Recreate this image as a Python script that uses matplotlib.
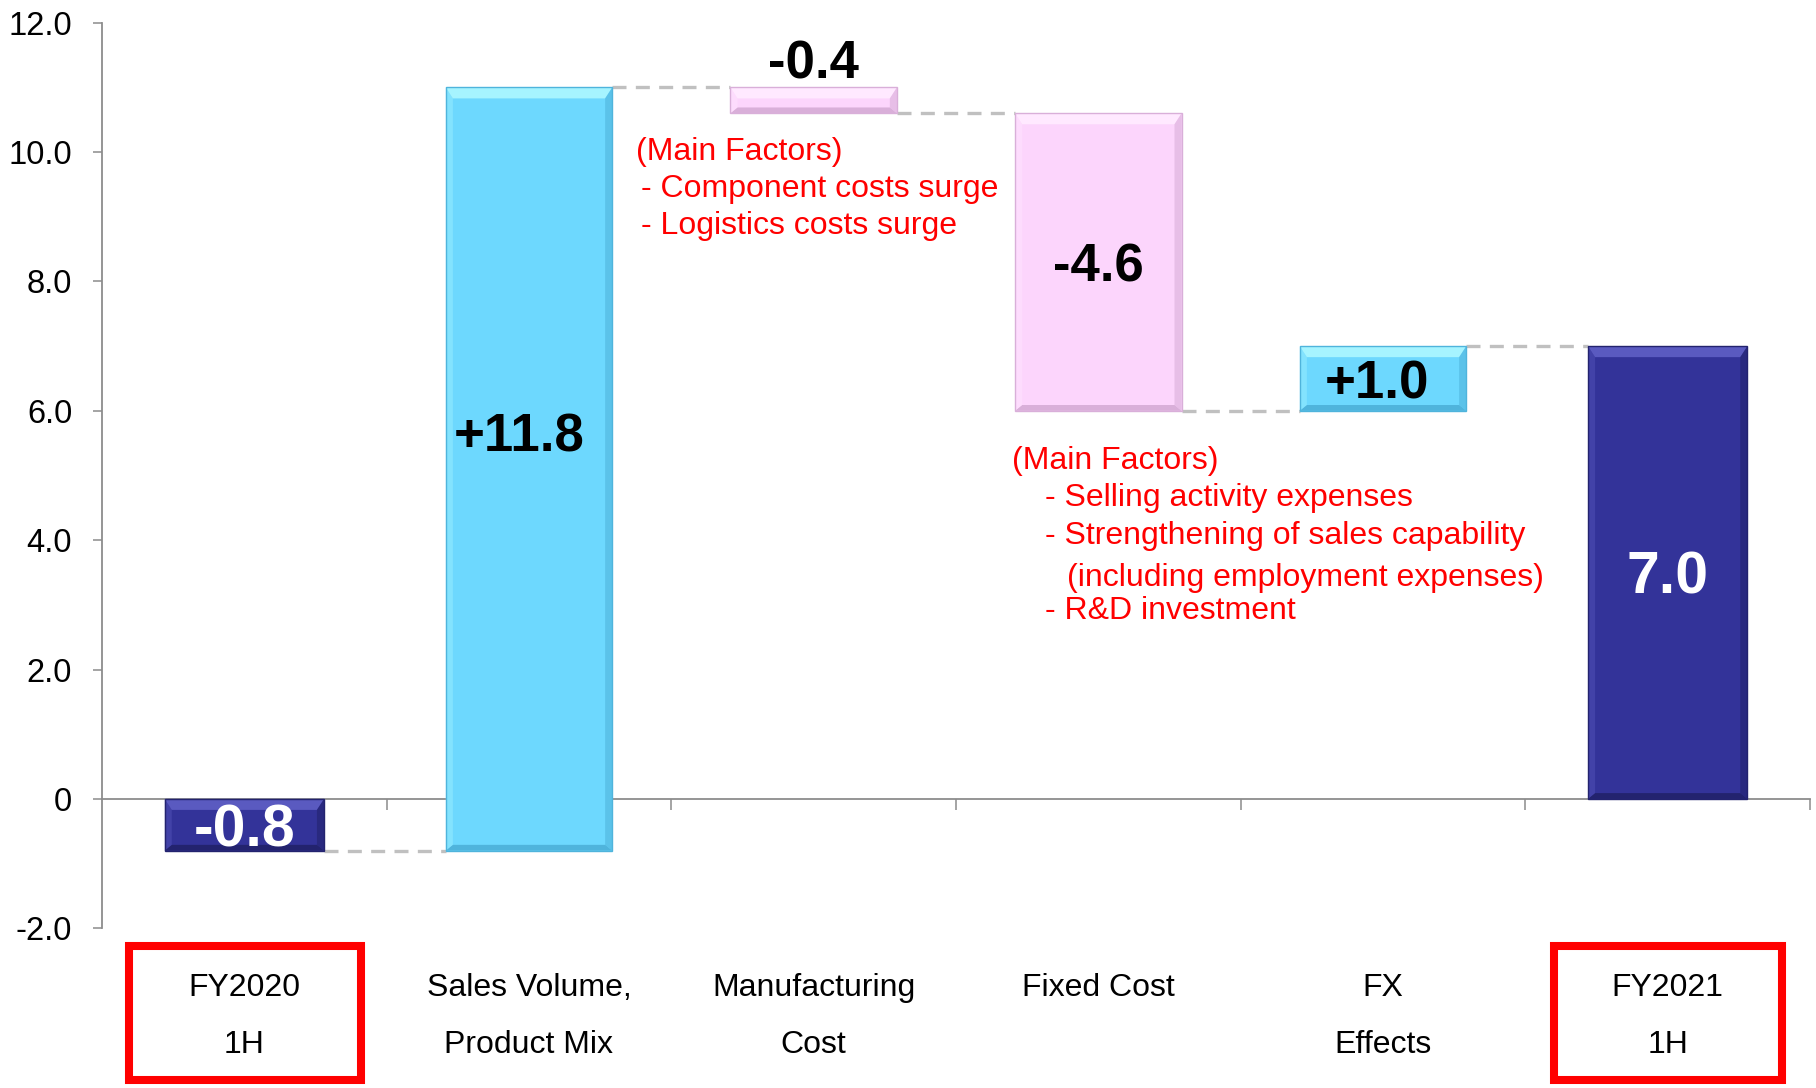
import matplotlib
matplotlib.use("Agg")
import matplotlib.pyplot as plt
from matplotlib.patches import Polygon, Rectangle

plt.rcParams['font.family'] = ['Liberation Sans', 'DejaVu Sans']

# waterfall data
categories = [["FY2020", "1H"], ["Sales Volume,", "Product Mix"], ["Manufacturing", "Cost"],
              ["Fixed Cost"], ["FX", "Effects"], ["FY2021", "1H"]]
values = [-0.8, 11.8, -0.4, -4.6, 1.0, 7.0]
is_total = [True, False, False, False, False, True]
y_ticks = [-2, 0, 2, 4, 6, 8, 10, 12]
y_tick_labels = ["-2.0", "0", "2.0", "4.0", "6.0", "8.0", "10.0", "12.0"]

notes_manufacturing = ["(Main Factors)", "- Component costs surge", "- Logistics costs surge"]
notes_fixed = ["(Main Factors)", "- Selling activity expenses", "- Strengthening of sales capability",
               "(including employment expenses)", "- R&D investment"]

# colours: face, bevel light, bevel dark
NAVY = ("#333399", "#5a5ac0", "#23236e")
BLUE = ("#6dd8fe", "#a6f4ff", "#4fb4dc")
PINK = ("#fcd5fc", "#ffe9ff", "#d9afd9")


def bevel_bar(ax, xc, lo, hi, w, colors):
    face, light, dark = colors
    x0, x1 = xc - w / 2, xc + w / 2
    bx, bt, bb = 0.025, 0.17, 0.09
    ax.add_patch(Rectangle((x0, lo), w, hi - lo, facecolor=face, edgecolor="none", zorder=3))
    ax.add_patch(Polygon([(x0, hi), (x1, hi), (x1 - bx, hi - bt), (x0 + bx, hi - bt)],
                         closed=True, facecolor=light, edgecolor="none", zorder=4))
    ax.add_patch(Polygon([(x0, lo), (x1, lo), (x1 - bx, lo + bb), (x0 + bx, lo + bb)],
                         closed=True, facecolor=dark, edgecolor="none", zorder=4))
    ax.add_patch(Polygon([(x1, lo), (x1, hi), (x1 - bx, hi - bt), (x1 - bx, lo + bb)],
                         closed=True, facecolor=dark, edgecolor="none", alpha=0.6, zorder=4))
    ax.add_patch(Polygon([(x0, lo), (x0, hi), (x0 + bx, hi - bt), (x0 + bx, lo + bb)],
                         closed=True, facecolor=light, edgecolor="none", alpha=0.4, zorder=4))
    ax.add_patch(Rectangle((x0, lo), w, hi - lo, facecolor="none", edgecolor=dark,
                           lw=1.0, zorder=5))


fig = plt.figure(figsize=(18.16, 10.88), dpi=100)
ax = fig.add_axes([102 / 1816, 0.1468, (1810 - 102) / 1816, 0.9791 - 0.1468])
ax.set_xlim(-0.5, 5.5)
ax.set_ylim(-2, 12)

# running totals for the floating bars
spans = []
running = 0.0
for v, tot in zip(values, is_total):
    if tot:
        start, end = 0.0, v
    else:
        start, end = running, running + v
    running = end
    spans.append((start, end))

widths = []
for i, (v, tot) in enumerate(zip(values, is_total)):
    start, end = spans[i]
    lo, hi = min(start, end), max(start, end)
    w = 0.56 if tot else 0.585
    widths.append(w)
    colors = NAVY if tot else (BLUE if v > 0 else PINK)
    bevel_bar(ax, i, lo, hi, w, colors)

    # value label
    text = f"{v:.1f}" if tot else f"{v:+.1f}"
    lx = i
    ly = (lo + hi) / 2 - 0.09
    if i == 1:
        lx -= 0.035
        ly += 0.57
    if i == 2:
        ly = hi + 0.35
    if i == 4:
        lx -= 0.02
    ax.text(lx, ly, text, ha="center", va="center", fontweight="bold",
            fontsize=42.5 if tot else 38,
            color="white" if tot else "black", zorder=6)

# dashed connectors between neighbouring bars
for i in range(len(values) - 1):
    y = spans[i][1]
    ax.plot([i + widths[i] / 2, i + 1 - widths[i + 1] / 2], [y, y], color="#c0c0c0",
            lw=2.4, dashes=(4.2, 2.8), zorder=2, solid_capstyle="butt")

# category labels below the axis
for i, lines in enumerate(categories):
    for j, line in enumerate(lines):
        ax.text(i, -2.93 - 0.87 * j, line, ha="center", va="center", fontsize=23, clip_on=False)

# red frames around the two period totals
for x0, x1 in [(-0.405, 0.41), (4.60, 5.40)]:
    ax.add_patch(Rectangle((x0, -4.34), x1 - x0, 2.07, facecolor="none", edgecolor="#ff0000",
                           lw=5.8, clip_on=False, zorder=6))

# explanatory notes in red
for j, line in enumerate(notes_manufacturing):
    x = 1.376 if j == 0 else 1.392
    ax.text(x, 10.0 - 0.57 * j, line, ha="left", va="center", fontsize=23, color="#ff0000")
note_x = [2.696, 2.811, 2.811, 2.89, 2.811]
note_y = [5.22, 4.65, 4.06, 3.42, 2.90]
for line, x, y in zip(notes_fixed, note_x, note_y):
    ax.text(x, y, line, ha="left", va="center", fontsize=23, color="#ff0000")

# axes styling
for side in ["top", "right"]:
    ax.spines[side].set_visible(False)
ax.spines["bottom"].set_position(("data", 0))
ax.spines["left"].set_bounds(-2, 12)
for side in ["left", "bottom"]:
    ax.spines[side].set_color("#8c8c8c")
    ax.spines[side].set_linewidth(1.3)

ax.set_yticks(y_ticks)
ax.set_yticklabels(y_tick_labels)
ax.tick_params(axis="y", length=6.5, width=1.1, color="#8c8c8c", pad=15, labelsize=23.5)
ax.set_xticks([0.5, 1.5, 2.5, 3.5, 4.5, 5.5])
ax.set_xticklabels([])
ax.tick_params(axis="x", direction="out", length=8, width=1.1, color="#8c8c8c")

fig.savefig("out.png", dpi=100)
